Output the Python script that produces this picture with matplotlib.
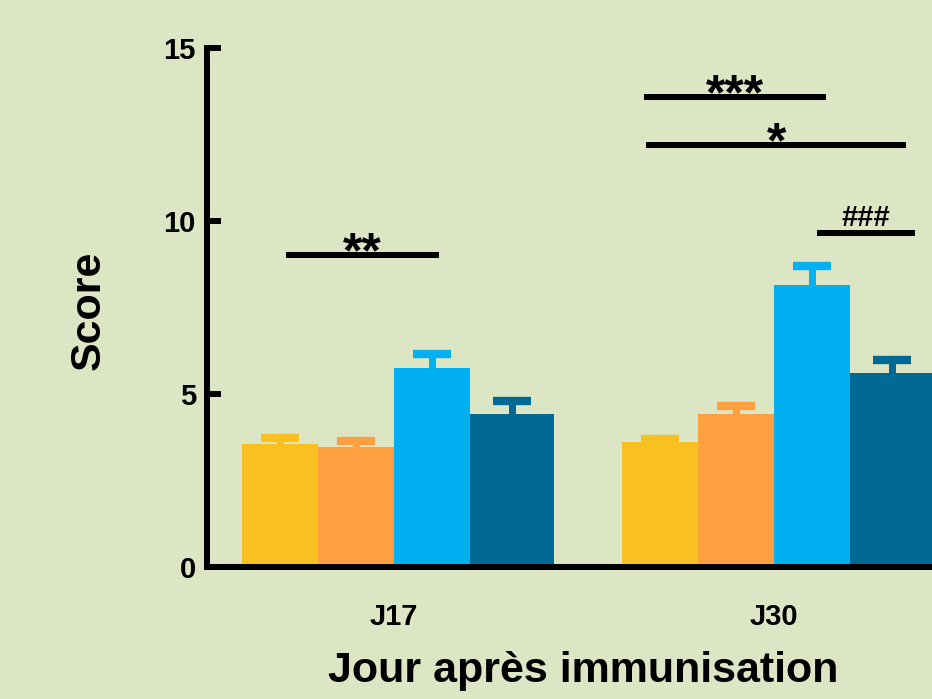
import matplotlib
matplotlib.use("Agg")
import matplotlib.pyplot as plt
import numpy as np

# 数据
days = ["J17", "J30"]
group_pos = [0, 5]
bar_colors = ["#f8c11f", "#fea040", "#00b0f0", "#006a94"]
bar_widths = [1.0, 1.0, 1.0, 1.1]
bar_left = [-2, -1, 0, 1]

means = [
    [3.55, 3.60],   # jaune
    [3.48, 4.43],   # orange
    [5.75, 8.16],   # bleu clair
    [4.42, 5.61],   # bleu foncé
]
upper = [
    [3.73, 3.70],
    [3.65, 4.65],
    [6.15, 8.70],
    [4.80, 5.97],
]

# annotations de significativité: (x debut, x fin, y, texte)
sig_x0 = [-1.42, 3.29, 3.32, 5.57]
sig_x1 = [0.59, 5.68, 6.74, 6.86]
sig_y = [9.02, 13.58, 12.2, 9.65]
sig_text = ["**", "***", "*", "###"]

bg = "#dce6c5"
plt.rcParams["font.family"] = ["Liberation Sans", "DejaVu Sans"]
plt.rcParams["font.weight"] = "bold"

fig = plt.figure(figsize=(9.32, 6.99), dpi=100, facecolor=bg)
ax = fig.add_axes([207 / 932, 132 / 699, 1 - 207 / 932, 519 / 699])
ax.set_facecolor(bg)

for i in range(4):
    for g in range(2):
        left = group_pos[g] + bar_left[i]
        ax.bar(left, means[i][g], width=bar_widths[i], align="edge",
               color=bar_colors[i], edgecolor="none", zorder=2)
        xc = left + bar_widths[i] / 2
        ax.plot([xc, xc], [means[i][g], upper[i][g]], color=bar_colors[i],
                lw=5, solid_capstyle="butt", zorder=1)
        ax.plot([xc], [upper[i][g]], marker="_", markersize=27,
                markeredgewidth=6, color=bar_colors[i], zorder=1)

for x0, x1, y, t in zip(sig_x0, sig_x1, sig_y, sig_text):
    ax.plot([x0, x1], [y, y], color="black", lw=4.3, solid_capstyle="butt",
            zorder=3, clip_on=False)
    if t.startswith("*"):
        ax.annotate(t, ((x0 + x1) / 2, y), xytext=(0, -9), textcoords="offset points",
                    ha="center", va="baseline", fontsize=36, fontweight="bold", zorder=4)
    else:
        ax.annotate(t, ((x0 + x1) / 2, y), xytext=(0, 5), textcoords="offset points",
                    ha="center", va="baseline", fontsize=21, fontweight="bold", zorder=4)

ax.set_xlim(-2.46, 7.08)
ax.set_ylim(0, 15)
ax.set_yticks([0, 5, 10, 15])
ax.set_xticks(group_pos)
ax.set_xticklabels(days)

for s in ["top", "right"]:
    ax.spines[s].set_visible(False)
for s in ["left", "bottom"]:
    ax.spines[s].set_linewidth(4.3)
    ax.spines[s].set_zorder(5)
    ax.spines[s].set_capstyle("projecting")

ax.tick_params(axis="y", direction="in", length=10, width=4.3, pad=8,
               labelsize=21)
ax.tick_params(axis="x", length=0, pad=26, labelsize=21)
for lab in ax.get_xticklabels() + ax.get_yticklabels():
    lab.set_fontweight("bold")

ax.set_ylabel("Score", fontsize=31, fontweight="bold", va="center")
ax.yaxis.set_label_coords((89 - 207) / 725, 0.495)
ax.set_xlabel("Jour après immunisation", fontsize=31, fontweight="bold", va="top")
ax.xaxis.set_label_coords(0.519, -0.162)

fig.savefig("out.png", dpi=100, facecolor=bg)
